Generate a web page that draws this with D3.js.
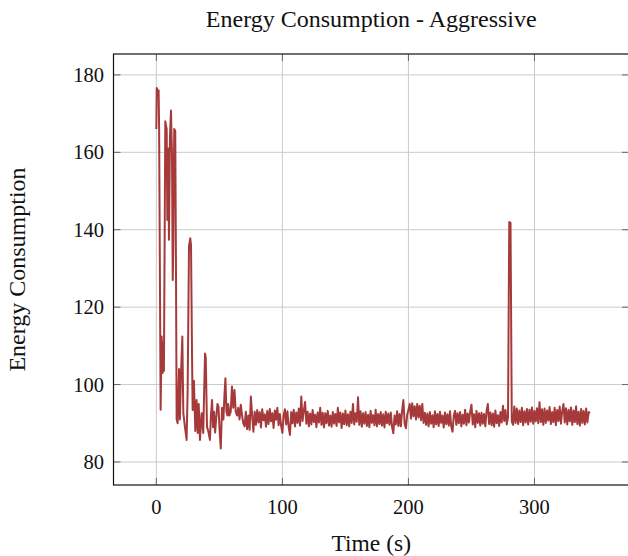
<!DOCTYPE html>
<html>
<head>
<meta charset="utf-8">
<script src="https://cdn.jsdelivr.net/npm/d3@7"></script>
<style>
  html, body { margin: 0; padding: 0; background: #fff; }
  svg { display: block; overflow: hidden; }
  text { font-family: "Liberation Serif", "DejaVu Serif", serif; fill: #111; }
</style>
</head>
<body>
<svg id="chart" width="628" height="556"></svg>
<script>
// start-up phase, read with uneven time steps (s)
const startupTimes = [
    0, 0.3, 1.2, 1.8, 2.2, 3.4, 4.2, 5.0, 5.5, 6.0,
    7.1, 8.2, 8.7, 9.5, 10.0, 10.8, 11.6, 12.4, 13.0, 13.4,
    14.2, 15.0, 15.6, 16.1, 16.9, 18.0, 18.7, 19.5, 20.6, 21.4,
    22.7, 24.0, 24.8, 25.9, 26.9, 27.5, 28.3, 28.8, 29.8, 30.9,
    31.9, 32.8, 33.6, 34.6, 35.9, 37.2, 38.6, 39.2, 40.2, 41.2,
    42.5, 43.3, 44.2, 45.0, 45.8, 46.6, 47.4, 48.5, 49.3, 50.2,
    51.1, 52.1, 53.2, 54.0, 54.8, 55.6, 56.4
];
const startupEnergy = [
    166, 176.6, 175.8, 176, 166, 93.5, 112.4, 103, 111, 103.5,
    168, 166, 142.5, 161, 137.4, 164, 170.8, 159.6, 127, 135,
    166, 165.5, 128, 91, 90, 104, 91, 102, 112.4, 92.6,
    89, 85.7, 98, 135.7, 137.8, 136, 108, 93.4, 101, 88,
    96, 87.5, 95, 85.7, 92.6, 87.5, 108, 107, 89, 88,
    85.7, 92, 96, 89, 93, 87.6, 91, 95, 94.3, 88,
    83.5, 94, 91, 97, 101.6, 93, 92
];

// steady phase, one reading per second from t = 57 s
const steadyStart = 57;
const steadyEnergy = [
    95, 92, 93, 99.5, 94, 98.6, 93, 92, 94, 91,
    94.8, 92, 90, 89.2, 93, 88.5, 92, 88.3, 96.9, 92,
    87.8, 93,
    89.6, 93.4, 90.2, 92.9, 88.9, 93.6, 90.8, 92.3, 89.1, 93.2,
    89.8, 93.7, 90.5, 92.6, 88.8, 93.3, 90.9, 94.0, 89.5, 92.4,
    89.3, 87.5, 92.1, 93.6, 89.7, 93.1, 88.9, 87.0, 92.9, 90.0,
    93.5, 89.2, 92.8, 90.1, 93.8, 89.4, 96.9, 90.6, 93.3, 95.5,
    89.9, 93.0, 89.2, 92.5, 89.7, 93.4, 90.3, 92.2, 89.0, 92.8,
    90.2, 94.0, 89.6, 92.7, 88.9, 92.6, 90.0, 93.2, 89.4, 92.0,
    89.1, 92.9, 89.9, 92.4, 89.3, 94.0, 90.2, 92.8, 88.8, 92.5,
    89.8, 93.3, 89.5, 92.3, 89.2, 93.0, 90.1, 95.0, 89.7, 92.6,
    90.4, 96.7, 89.6, 93.1, 89.1, 92.6, 89.9, 92.9, 89.3, 92.2,
    89.0, 93.2, 90.1, 92.1, 89.5, 93.5, 89.2, 92.4, 89.8, 92.9,
    89.4, 92.3, 88.9, 93.0, 90.0, 92.5, 89.6, 92.8, 89.1, 87.4,
    92.0, 89.7, 93.1, 89.3, 92.4, 89.2, 93.4, 96.0, 89.9, 88.7,
    92.2, 93.4, 95.0, 91.2, 95.2, 91.8, 94.4, 91.0, 95.0, 91.5,
    94.5, 90.8, 95.0, 90.1, 92.7, 89.6, 92.5, 89.2, 92.9, 89.9,
    92.1, 89.0, 93.1, 89.7, 92.4, 89.3, 93.0, 90.1, 92.0, 88.9,
    92.8, 89.8, 92.3, 89.4, 93.1, 89.1, 87.8, 92.0, 93.2, 89.6,
    92.6, 90.0, 92.9, 89.2, 92.2, 89.9, 93.5, 89.5, 92.5, 90.2,
    93.0, 94.8, 89.7, 92.3, 89.0, 93.2, 90.1, 92.6, 89.4, 92.7,
    89.9, 92.4, 89.2, 93.1, 95.0, 89.8, 92.8, 89.5, 92.5, 89.1,
    93.3, 90.0, 92.1, 89.3, 92.9, 90.2, 94.5, 90.6, 93.4, 89.7,
    91.5, 142.0, 141.8, 90.5, 89.6, 94.3, 90.1, 93.8, 89.8, 93.3,
    90.3, 94.0, 89.5, 93.1, 90.2, 93.7, 89.7, 93.5, 90.4, 94.1,
    89.9, 93.2, 90.5, 93.9, 90.0, 95.4, 90.3, 93.6, 89.6, 93.8,
    90.1, 93.3, 90.7, 94.2, 89.8, 92.9, 90.3, 94.0, 89.5, 93.4,
    90.6, 94.3, 89.9, 93.1, 95.0, 90.2, 93.9, 89.7, 93.5, 90.5,
    94.1, 89.6, 93.3, 90.3, 94.4, 89.8, 93.0, 89.4, 93.7, 90.1,
    93.2, 89.7, 93.8, 90.2, 92.9, 92.6
];

const xTicks = [0, 100, 200, 300];
const yTicks = [80, 100, 120, 140, 160, 180];

const series = startupTimes.map((t, i) => [t, startupEnergy[i]])
    .concat(steadyEnergy.map((v, i) => [steadyStart + i, v]));

const svg = d3.select("#chart");
const plotLeft = 113.5, plotRight = 629, plotTop = 54, plotBottom = 485;
const tickLen = 7;

const x = d3.scaleLinear().domain([-34, 375]).range([plotLeft, plotRight]);
const y = d3.scaleLinear().domain([74.05, 185.4]).range([plotBottom, plotTop]);

// grid
const grid = svg.append("g")
    .attr("stroke", "#cbcbcb")
    .attr("stroke-width", 1);
grid.selectAll(".gx").data(xTicks).enter().append("line")
    .attr("x1", d => x(d)).attr("x2", d => x(d))
    .attr("y1", plotTop).attr("y2", plotBottom);
grid.selectAll(".gy").data(yTicks).enter().append("line")
    .attr("x1", plotLeft).attr("x2", plotRight)
    .attr("y1", d => y(d)).attr("y2", d => y(d));

// the series
svg.append("path")
    .datum(series)
    .attr("fill", "none")
    .attr("stroke", "#a63a3a")
    .attr("stroke-width", 2)
    .attr("stroke-linejoin", "round")
    .attr("d", d3.line().x(d => x(d[0])).y(d => y(d[1])));

// inward tick marks on all four sides
const ticks = svg.append("g")
    .attr("stroke", "#666")
    .attr("stroke-width", 1);
xTicks.forEach(d => {
    ticks.append("line")
        .attr("x1", x(d)).attr("x2", x(d))
        .attr("y1", plotBottom).attr("y2", plotBottom - tickLen);
    ticks.append("line")
        .attr("x1", x(d)).attr("x2", x(d))
        .attr("y1", plotTop).attr("y2", plotTop + tickLen);
});
yTicks.forEach(d => {
    ticks.append("line")
        .attr("x1", plotLeft).attr("x2", plotLeft + tickLen)
        .attr("y1", y(d)).attr("y2", y(d));
    ticks.append("line")
        .attr("x1", plotRight).attr("x2", plotRight - tickLen)
        .attr("y1", y(d)).attr("y2", y(d));
});

// frame
svg.append("rect")
    .attr("x", plotLeft).attr("y", plotTop)
    .attr("width", plotRight - plotLeft).attr("height", plotBottom - plotTop)
    .attr("fill", "none")
    .attr("stroke", "#111")
    .attr("stroke-width", 1.2);

// tick labels
svg.selectAll(".xl").data(xTicks).enter().append("text")
    .attr("x", d => x(d))
    .attr("y", 514)
    .attr("text-anchor", "middle")
    .style("font-size", "20.5px")
    .text(d => d);

svg.selectAll(".yl").data(yTicks).enter().append("text")
    .attr("x", 104)
    .attr("y", d => y(d) + 7)
    .attr("text-anchor", "end")
    .style("font-size", "20.5px")
    .text(d => d);

// titles
svg.append("text")
    .attr("x", (plotLeft + plotRight) / 2)
    .attr("y", 27)
    .attr("text-anchor", "middle")
    .style("font-size", "24px")
    .text("Energy Consumption - Aggressive");

svg.append("text")
    .attr("x", (plotLeft + plotRight) / 2)
    .attr("y", 551)
    .attr("text-anchor", "middle")
    .style("font-size", "23.5px")
    .text("Time (s)");

svg.append("text")
    .attr("transform", `translate(25,${(plotTop + plotBottom) / 2}) rotate(-90)`)
    .attr("text-anchor", "middle")
    .style("font-size", "24px")
    .text("Energy Consumption");
</script>
</body>
</html>
